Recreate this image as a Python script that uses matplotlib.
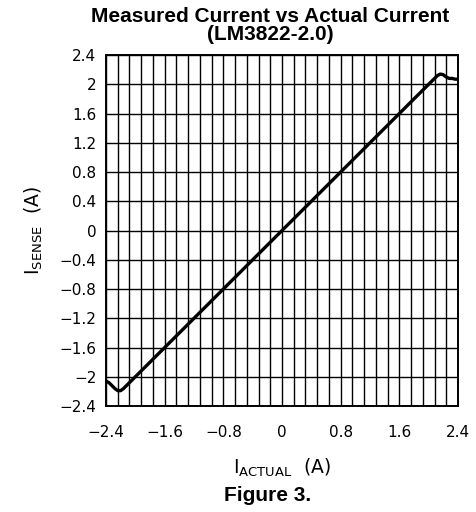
import numpy as np
import matplotlib
matplotlib.use("Agg")
import matplotlib.pyplot as plt

# measured curve
i_actual = [-2.40, -2.36, -2.32, -2.28, -2.24, -2.20, -2.16, -2.10,
            0.0, 2.08, 2.12, 2.16, 2.20, 2.24, 2.28, 2.32, 2.36, 2.40]
i_sense = [-2.06, -2.08, -2.12, -2.16, -2.19, -2.19, -2.16, -2.10,
           0.0, 2.08, 2.12, 2.14, 2.13, 2.10, 2.08, 2.08, 2.07, 2.07]

x_ticks = [-2.4, -1.6, -0.8, 0, 0.8, 1.6, 2.4]
x_ticklabels = ["\u22122.4", "\u22121.6", "\u22120.8", "0", "0.8", "1.6", "2.4"]
y_ticks = [-2.4, -2.0, -1.6, -1.2, -0.8, -0.4, 0, 0.4, 0.8, 1.2, 1.6, 2.0, 2.4]
y_ticklabels = ["\u22122.4", "\u22122", "\u22121.6", "\u22121.2", "\u22120.8", "\u22120.4",
                "0", "0.4", "0.8", "1.2", "1.6", "2", "2.4"]
x_minor = np.linspace(-2.4, 2.4, 31)

fig = plt.figure(figsize=(4.76, 5.12), dpi=100)
ax = fig.add_axes([0.2227, 0.207, 0.7395, 0.6855])

ax.plot(i_actual, i_sense, color="black", lw=2.4, solid_capstyle="round")

ax.set_xlim(-2.4, 2.4)
ax.set_ylim(-2.4, 2.4)
ax.set_xticks(x_ticks)
ax.set_xticklabels(x_ticklabels)
ax.set_xticks(x_minor, minor=True)
ax.set_yticks(y_ticks)
ax.set_yticklabels(y_ticklabels)
ax.grid(True, which="both", color="black", lw=1.0)
ax.tick_params(which="both", length=0, labelsize=11)
ax.tick_params(axis="x", pad=14)
ax.tick_params(axis="y", pad=7)
for s in ax.spines.values():
    s.set_linewidth(1.4)

ax.set_xlabel(r"I$_{\mathrm{ACTUAL}}$  (A)", fontsize=13.5, labelpad=12)
ax.set_ylabel(r"I$_{\mathrm{SENSE}}$  (A)", fontsize=13.5, labelpad=10)

fig.text(0.567, 0.968, "Measured Current vs Actual Current", ha="center", va="center",
         fontsize=15, fontweight="bold", family="Liberation Sans")
fig.text(0.567, 0.933, "(LM3822-2.0)", ha="center", va="center",
         fontsize=15, fontweight="bold", family="Liberation Sans")
fig.text(0.563, 0.033, "Figure 3.", ha="center", va="center",
         fontsize=15, fontweight="bold", family="Liberation Sans")

fig.savefig("out.png", dpi=100)
